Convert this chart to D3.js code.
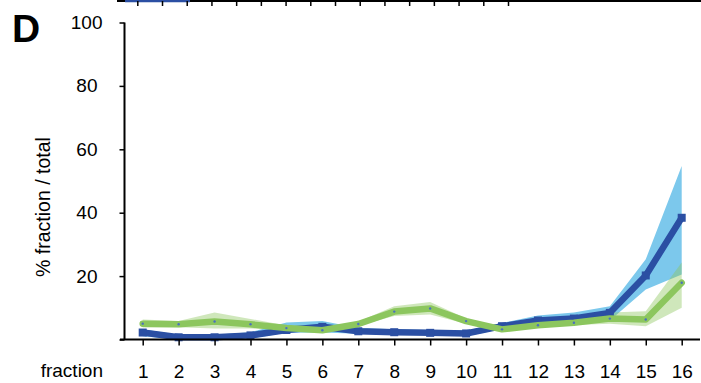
<!DOCTYPE html>
<html><head><meta charset="utf-8">
<script src="https://cdn.jsdelivr.net/npm/d3@7"></script>
<style>
body{margin:0;background:#fff;}
svg{display:block;font-family:"Liberation Sans",Arial,Helvetica,sans-serif;}
</style></head>
<body><svg id="c" width="701" height="383"></svg>
<script>
const fractions = [1,2,3,4,5,6,7,8,9,10,11,12,13,14,15,16];
const blueMean  = [2.2,0.7,0.7,1.3,3.0,4.0,2.6,2.3,2.1,1.9,4.2,6.0,6.6,8.4,20.2,38.4];
const blueLow   = [1.0,0.0,0.0,0.3,2.1,2.2,1.8,1.5,1.4,1.0,3.3,4.4,4.6,6.0,15.8,20.5];
const blueHigh  = [3.2,1.5,1.5,2.3,5.4,5.8,3.6,3.2,3.0,2.8,5.2,7.6,8.5,10.5,25.3,54.7];
const greenMean = [5.0,4.8,5.7,4.8,3.6,2.9,4.9,8.8,9.8,5.8,3.2,4.5,5.3,6.6,6.3,17.9];
const greenLow  = [3.8,3.9,3.5,3.5,3.0,2.4,4.3,7.4,7.9,5.0,2.7,3.9,4.6,5.0,4.2,10.0];
const greenHigh = [6.3,5.8,8.5,6.5,4.4,3.5,5.6,10.5,11.8,6.6,3.9,5.2,6.3,8.5,8.9,24.3];
const yTicks = [0,20,40,60,80,100];
const yTickLabels = ["","20","40","60","80","100"];

const FONT = "Liberation Sans, Arial, sans-serif";
const svg = d3.select("#c");
const x = d3.scaleLinear().domain([1,16]).range([142.7,681.7]);
const y = d3.scaleLinear().domain([0,100]).range([339.5,22.5]);

// fragment of the previous panel's axis at the top
const xTop = d3.scaleLinear().domain([1,16]).range([137.3,508]);
const gTop = svg.append("g").attr("transform","translate(0,1)");
gTop.append("line").attr("x1",117).attr("x2",701).attr("y1",0).attr("y2",0)
  .attr("stroke","#000").attr("stroke-width",2);
gTop.append("line").attr("x1",125).attr("x2",190).attr("y1",0).attr("y2",0)
  .attr("stroke","#2b4fa3").attr("stroke-width",2.5);
gTop.call(d3.axisBottom(xTop).tickValues(fractions).tickSize(5).tickFormat(""))
  .call(g=>g.select(".domain").remove())
  .call(g=>g.selectAll(".tick line").attr("stroke","#000").attr("stroke-width",1.5));

// panel letter
svg.append("text").attr("x",12).attr("y",42).attr("font-size",39).attr("font-weight","bold")
  .attr("font-family",FONT).text("D");

const data = fractions.map((f,i)=>({f, bm:blueMean[i], bl:blueLow[i], bh:blueHigh[i],
  gm:greenMean[i], gl:greenLow[i], gh:greenHigh[i]}));

const area = (lo,hi)=>d3.area().x(d=>x(d.f)).y0(d=>y(d[lo])).y1(d=>y(d[hi]));
const line = k=>d3.line().x(d=>x(d.f)).y(d=>y(d[k]));

svg.append("path").datum(data).attr("d",area("bl","bh")).attr("fill","#7cc8ec");
svg.append("path").datum(data).attr("d",area("gl","gh")).attr("fill","#8cc65e").attr("fill-opacity",0.42);
svg.append("path").datum(data).attr("d",line("bm")).attr("fill","none")
  .attr("stroke","#2b4fa3").attr("stroke-width",6.5).attr("stroke-linejoin","round");
svg.selectAll(".bsq").data(data).join("rect").attr("class","bsq")
  .attr("x",d=>x(d.f)-4).attr("y",d=>y(d.bm)-4).attr("width",8).attr("height",8).attr("fill","#2b4fa3");
svg.append("path").datum(data).attr("d",line("gm")).attr("fill","none")
  .attr("stroke","#8cc65e").attr("stroke-width",6.5).attr("stroke-linejoin","round").attr("stroke-linecap","round");
svg.selectAll(".gdot").data(data).join("circle").attr("class","gdot")
  .attr("cx",d=>x(d.f)).attr("cy",d=>y(d.gm)).attr("r",1.2).attr("fill","#4a6fc0");

// axes
const gx = svg.append("g").attr("transform",`translate(0,${y(0)})`)
  .call(d3.axisBottom(x).tickValues(fractions).tickSize(6).tickPadding(19).tickFormat(d3.format("d")));
gx.select(".domain").remove();
gx.append("line").attr("x1",120).attr("x2",700).attr("stroke","#000").attr("stroke-width",2);
gx.selectAll(".tick line").attr("stroke","#000").attr("stroke-width",1.5);
gx.selectAll(".tick text").attr("font-size",19).attr("fill","#000").attr("font-family",FONT);

const gy = svg.append("g").attr("transform","translate(124.5,0)")
  .call(d3.axisLeft(y).tickValues(yTicks).tickSize(5).tickPadding(22).tickFormat((d,i)=>yTickLabels[i]));
gy.select(".domain").remove();
gy.append("line").attr("y1",y(100)).attr("y2",y(0)).attr("stroke","#000").attr("stroke-width",2);
gy.selectAll(".tick line").attr("stroke","#000").attr("stroke-width",1.5);
gy.selectAll(".tick text").attr("font-size",19).attr("fill","#000").attr("font-family",FONT)
  .attr("dx",d=>d===100?5:0);

svg.append("text").attr("transform","translate(50,207) rotate(-90)").attr("text-anchor","middle")
  .attr("font-size",19.5).attr("font-family",FONT).text("% fraction / total");
svg.append("text").attr("x",103).attr("y",377).attr("text-anchor","end")
  .attr("font-size",19).attr("font-family",FONT).text("fraction");
</script></body></html>
